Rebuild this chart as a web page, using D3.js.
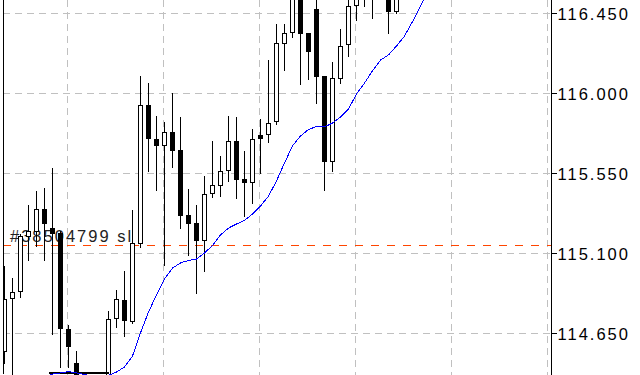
<!DOCTYPE html>
<html><head><meta charset="utf-8">
<script src="https://cdn.jsdelivr.net/npm/d3@7"></script>
<style>html,body{margin:0;padding:0;background:#fff;overflow:hidden}</style>
</head><body>
<svg id="c" width="640" height="375"></svg>
<script>
// ---- data ----
const opens  = [114.546,114.848,114.885,115.198,115.223,115.349,115.243,115.214,114.674,114.482,
                114.411,114.330,114.350,114.380,114.736,114.838,114.720,115.157,115.930,115.744,
                115.706,115.778,115.678,115.311,115.270,115.172,115.439,115.484,115.566,115.731,
                115.519,115.498,115.761,115.767,115.841,116.282,116.344,116.554,116.339,116.470,
                116.095,115.616,116.082,116.277,116.494,116.560,116.580,116.560,116.554,116.460];
const highs  = [115.035,114.964,115.210,115.378,115.457,115.474,115.581,115.227,114.698,114.552,
                114.413,114.370,114.400,114.782,114.895,115.007,115.348,116.104,116.061,115.879,
                115.840,116.008,115.873,115.468,115.373,115.536,115.733,115.654,115.879,115.873,
                115.682,115.804,115.861,116.192,116.395,116.395,116.582,116.593,116.344,116.543,
                116.098,116.179,116.367,116.537,116.582,116.600,116.620,116.630,116.571,116.560];
const lows   = [114.484,114.419,114.850,115.063,115.138,115.063,114.642,114.456,114.456,114.394,
                114.300,114.280,114.310,114.360,114.681,114.632,114.709,115.131,115.560,115.457,
                115.035,115.583,115.242,115.088,114.876,114.998,115.414,115.420,115.504,115.407,
                115.307,115.384,115.551,115.723,115.823,116.127,116.314,116.048,116.076,115.945,
                115.452,115.560,116.057,116.207,116.413,116.492,116.423,116.543,116.339,116.451];
const closes = [114.844,114.880,115.198,115.221,115.349,115.270,115.215,114.679,114.576,114.411,
                114.330,114.350,114.380,114.730,114.842,114.722,115.157,115.930,115.746,115.706,
                115.782,115.678,115.313,115.270,115.172,115.433,115.480,115.564,115.731,115.519,
                115.498,115.742,115.746,115.832,116.282,116.339,116.554,116.339,116.235,116.095,
                115.616,116.082,116.267,116.492,116.560,116.580,116.560,116.600,116.460,116.543];
const maValues = [114.300,114.320,114.340,114.360,114.380,114.400,114.422,114.428,114.436,114.428,
                  114.419,114.411,114.408,114.414,114.433,114.462,114.523,114.653,114.771,114.867,
                  114.957,115.018,115.047,115.061,115.069,115.103,115.145,115.204,115.243,115.266,
                  115.286,115.322,115.367,115.423,115.508,115.609,115.705,115.761,115.798,115.814,
                  115.812,115.834,115.868,115.913,115.997,116.059,116.127,116.188,116.217,116.267,
                  116.323,116.404,116.492,116.582];
const priceTicks = [116.45, 116.00, 115.55, 115.10, 114.65];
const gridBars = [8, 20, 32, 44, 56, 68];
const slPrice = 115.145;
const slLabel = "#38504799 sl";
const segPrice = 114.426, segFrom = 5.6, segTo = 13;

// ---- layout ----
const W = 640, H = 375, left = 3, axisX = 551;
const svg = d3.select("#c");
const x = d3.scaleLinear().domain([0, 1]).range([4.5, 12.5]);
const y = d3.scaleLinear().domain([114.4166, 116.5259]).range([H, 0]);
const font = "'Liberation Sans', Arial, sans-serif";

svg.append("defs").append("clipPath").attr("id", "clip")
  .append("rect").attr("x", left).attr("y", 0).attr("width", axisX - left).attr("height", H);

const g = svg.append("g").attr("clip-path", "url(#clip)");

// grid
g.selectAll("line.hg").data(priceTicks).join("line")
  .attr("x1", left).attr("x2", axisX)
  .attr("y1", d => y(d)).attr("y2", d => y(d))
  .attr("stroke", "#c0c0c0").attr("stroke-dasharray", "7,5").attr("shape-rendering", "crispEdges");
g.selectAll("line.vg").data(gridBars).join("line")
  .attr("x1", d => x(d) - 1).attr("x2", d => x(d) - 1)
  .attr("y1", 0).attr("y2", H)
  .attr("stroke", "#c0c0c0").attr("stroke-dasharray", "7,5").attr("shape-rendering", "crispEdges");

// stop-loss level
g.append("line").attr("x1", left).attr("x2", axisX)
  .attr("y1", y(slPrice)).attr("y2", y(slPrice))
  .attr("stroke", "#ff4500").attr("stroke-dasharray", "8,8").attr("shape-rendering", "crispEdges");
g.append("text").attr("x", 10).attr("y", y(slPrice) - 4)
  .attr("font-family", font).attr("font-size", 16.5).attr("letter-spacing", 2)
  .attr("fill", "#222").text(slLabel);

// candles
const idx = d3.range(opens.length);
const px = v => Math.round(y(v) - 0.5) + 0.5;
g.selectAll("line.wick").data(idx).join("line")
  .attr("x1", i => x(i)).attr("x2", i => x(i))
  .attr("y1", i => px(highs[i])).attr("y2", i => px(lows[i]))
  .attr("stroke", "#000").attr("shape-rendering", "crispEdges");
g.selectAll("rect.body").data(idx).join("rect")
  .attr("x", i => x(i) - 2).attr("width", 4)
  .attr("y", i => px(Math.max(opens[i], closes[i])))
  .attr("height", i => Math.max(0, px(Math.min(opens[i], closes[i])) - px(Math.max(opens[i], closes[i]))))
  .attr("fill", i => closes[i] >= opens[i] ? "#fff" : "#000")
  .attr("stroke", "#000").attr("shape-rendering", "crispEdges");

// bottom segment
g.append("line").attr("x1", x(segFrom)).attr("x2", x(segTo))
  .attr("y1", y(segPrice)).attr("y2", y(segPrice))
  .attr("stroke", "#000").attr("stroke-width", 2).attr("shape-rendering", "crispEdges");

// moving average
g.append("path").datum(maValues)
  .attr("d", d3.line().x((d, i) => x(i)).y(d => y(d)))
  .attr("fill", "none").attr("stroke", "#0000ff").attr("stroke-width", 1)
  .attr("shape-rendering", "crispEdges");

// left frame
svg.append("line").attr("x1", left + 0.5).attr("x2", left + 0.5).attr("y1", 0).attr("y2", H - 1)
  .attr("stroke", "#000").attr("shape-rendering", "crispEdges");

// price axis
const axis = d3.axisRight(y).tickValues(priceTicks).tickFormat(d3.format(".3f"))
  .tickSize(5).tickSizeOuter(0).offset(0);
const ax = svg.append("g").attr("transform", `translate(${axisX + 0.5},0)`).call(axis);
ax.select(".domain").attr("stroke", "#000").attr("shape-rendering", "crispEdges");
ax.selectAll(".tick line").attr("stroke", "#000").attr("shape-rendering", "crispEdges");
ax.selectAll(".tick text").attr("x", 6).attr("dy", "0.4em")
  .attr("font-family", font).attr("font-size", 16.5).attr("letter-spacing", 2).attr("fill", "#000");
</script>
</body></html>
